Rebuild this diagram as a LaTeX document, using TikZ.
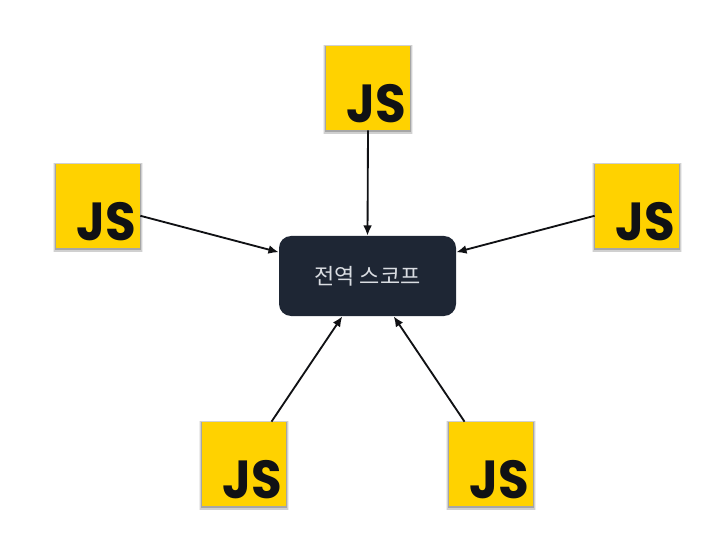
\documentclass[tikz,border=0pt]{standalone}
\usepackage{fontspec}
\setmainfont{Poppins}
\newfontfamily\krfont{Noto Sans CJK KR}
\usetikzlibrary{shadows,arrows.meta}
\definecolor{jsyellow}{HTML}{FFD200}
\definecolor{jsink}{HTML}{101114}
\definecolor{scopefill}{HTML}{1E2634}
\definecolor{scopetext}{HTML}{DADDE2}
\newcommand{\jsmark}{\scalebox{0.93}[1]{JS}}
\tikzset{
  jsbox/.style={fill=jsyellow,minimum size=1.68cm,inner sep=0pt,
    drop shadow={shadow xshift=0pt,shadow yshift=-0.8pt,shadow scale=1.07,fill=black,opacity=0.07},
    drop shadow={shadow xshift=0pt,shadow yshift=-0.8pt,shadow scale=1.05,fill=black,opacity=0.12},
    drop shadow={shadow xshift=0pt,shadow yshift=-0.5pt,shadow scale=1.03,fill=black,opacity=0.2}},
  jstext/.style={text=jsink,font=\fontsize{30.5}{32}\selectfont\bfseries,inner sep=0pt,xshift=0.17cm,yshift=-0.31cm},
  scopebox/.style={fill=scopefill,rounded corners=0.24cm,minimum width=3.54cm,minimum height=1.6cm,
    text=scopetext,font=\krfont\fontsize{12.5}{14}\selectfont}
}
\begin{document}
\begin{tikzpicture}
    \useasboundingbox (0,0) rectangle (14.44,11.14);
    \node[scopebox] (scope) at (7.35,5.62) {전역 스코프};
    \node[jsbox] (jstop) at (7.36,9.38) {};
    \node[jstext] (jstoptext) at (jstop) {\jsmark};
    \node[jsbox] (jsleft) at (1.96,7.02) {};
    \node[jstext] (jslefttext) at (jsleft) {\jsmark};
    \node[jsbox] (jsright) at (12.74,7.02) {};
    \node[jstext] (jsrighttext) at (jsright) {\jsmark};
    \node[jsbox] (jsbl) at (4.88,1.86) {};
    \node[jstext] (jsbltext) at (jsbl) {\jsmark};
    \node[jsbox] (jsbr) at (9.82,1.86) {};
    \node[jstext] (jsbrtext) at (jsbr) {\jsmark};
    \begin{scope}[-{Latex[length=5.8pt,width=5pt]},line width=1.05pt,jsink]
      \draw (jstop.south) -- (scope.north);
      \draw (jsleft.-13) -- (scope.165);
      \draw (jsright.193) -- (scope.15);
      \draw (jsbl.57) -- (scope.238);
      \draw (jsbr.122) -- (scope.303);
    \end{scope}
  \end{tikzpicture}
\end{document}
